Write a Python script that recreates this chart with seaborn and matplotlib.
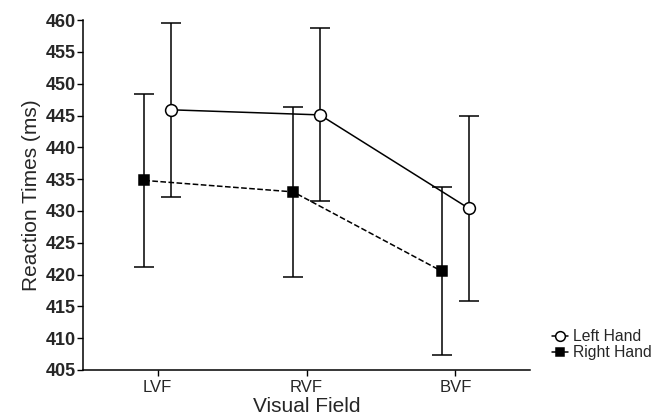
import seaborn as sns
import numpy as np
import pandas as pd
import matplotlib.pyplot as plt
from matplotlib.lines import Line2D

sns.set_theme(style="ticks")
plt.rcParams["font.family"] = ["Liberation Sans", "DejaVu Sans"]

fields = ["LVF", "RVF", "BVF"]
left_mean = [445.9, 445.1, 430.4]
left_err = [13.7, 13.6, 14.5]
right_mean = [434.8, 433.0, 420.5]
right_err = [13.6, 13.4, 13.2]

df = pd.DataFrame({
    "field": fields * 2,
    "hand": ["Left Hand"] * 3 + ["Right Hand"] * 3,
    "rt": left_mean + right_mean,
    "err": left_err + right_err,
})

fig = plt.figure(figsize=(6.55, 4.19), dpi=100)
ax = fig.add_axes([0.127, 0.117, 0.682, 0.835])

styles = {
    "Left Hand": dict(offset=0.09, marker="o", ls="-", mfc="white", ms=8.5),
    "Right Hand": dict(offset=-0.09, marker="s", ls="--", mfc="black", ms=7.5),
}
handles = []
for hand in ["Left Hand", "Right Hand"]:
    sub = df[df.hand == hand]
    st = styles[hand]
    x = np.arange(len(fields)) + st["offset"]
    ax.errorbar(x, sub.rt, yerr=sub.err, color="black", lw=1.1, ls=st["ls"],
                marker=st["marker"], mfc=st["mfc"], mec="black", mew=1.1,
                ms=st["ms"], capsize=7.5, elinewidth=1.1, capthick=1.1,
                zorder=3)
    handles.append(Line2D([], [], color="black", lw=1.1, marker=st["marker"],
                          mfc=st["mfc"], mec="black", mew=1.1, ms=st["ms"] - 1.5,
                          label=hand))

ax.set_xlim(-0.5, 2.5)
ax.set_ylim(405, 460)
ax.set_yticks(np.arange(405, 461, 5))
ax.set_xticks(range(len(fields)))
ax.set_xticklabels(fields)
ax.tick_params(axis="y", labelsize=13, length=4, width=1, color="black", pad=1)
ax.tick_params(axis="x", labelsize=12, length=4, width=1, color="black", pad=3)
for lbl in ax.get_yticklabels():
    lbl.set_fontweight("bold")
sns.despine(ax=ax)
for s in ["left", "bottom"]:
    ax.spines[s].set_color("black")
    ax.spines[s].set_linewidth(1.1)

ax.set_ylabel("Reaction Times (ms)", fontsize=15, labelpad=4)
ax.set_xlabel("Visual Field", fontsize=15, labelpad=2)

fig.legend(handles=handles, loc="upper left", bbox_to_anchor=(546 / 655, 1 - 323 / 419),
           frameon=False, fontsize=11.3, handlelength=1.0, handletextpad=0.3,
           labelspacing=0.05, borderaxespad=0)

fig.savefig("out.png", dpi=100)
